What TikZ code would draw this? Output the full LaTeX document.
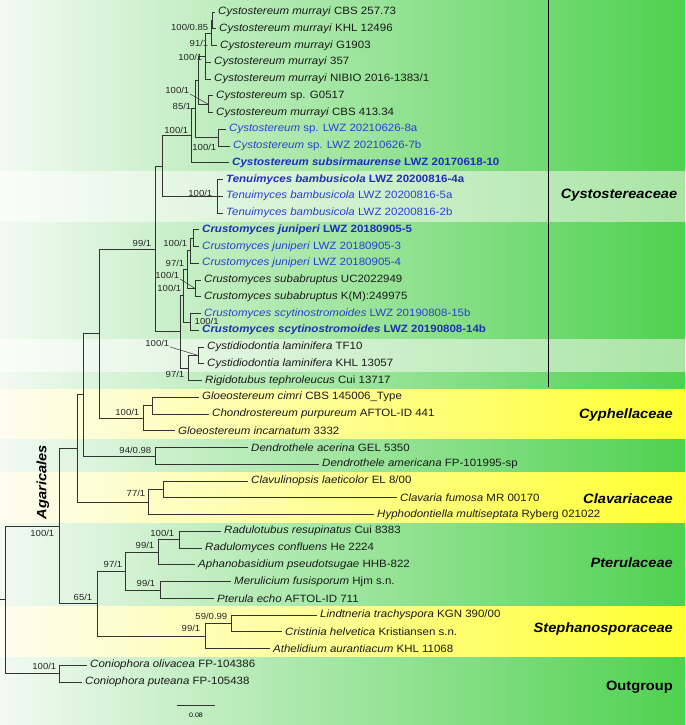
\documentclass[tikz,border=0pt]{standalone}
\usepackage{fontspec}
\setmainfont{Liberation Sans}[FakeStretch=1.085]
\usepackage{xcolor}
\usetikzlibrary{calc}
\definecolor{gLeft}{HTML}{F2FAF2}
\definecolor{gRight}{HTML}{4FD14F}
\definecolor{lLeft}{HTML}{FAFDFA}
\definecolor{lRight}{HTML}{A9E5A5}
\definecolor{yLeft}{HTML}{FEFDF0}
\definecolor{yRight}{HTML}{FFFF30}
\definecolor{tipBlack}{HTML}{1A1A1A}
\definecolor{tipBlue}{HTML}{2B3FD6}
\definecolor{tipBold}{HTML}{1F2FB8}
\definecolor{branchCol}{HTML}{333333}

\begin{document}
\begin{tikzpicture}[
    x=1pt, y=-1pt,
    bandgreen/.style={left color=gLeft, right color=gRight},
    bandlight/.style={left color=lLeft, right color=lRight},
    bandyellow/.style={left color=yLeft, right color=yRight},
    branch/.style={draw=branchCol, line width=0.7pt},
    tip/.style={anchor=west, inner xsep=3pt, inner ysep=1pt,
        font=\fontsize{10.6}{12}\selectfont},
    support/.style={anchor=east, inner sep=0.5pt,
        font=\fontsize{8.8}{10}\selectfont, text=black!85},
    clade/.style={anchor=east, inner sep=0pt,
        font=\fontsize{13.5}{16}\selectfont\bfseries\itshape}
]
    \useasboundingbox (0,0) rectangle (685,725);

    % --- BACKGROUND BANDS ---
    \foreach \ya/\yb/\kind in {
        0/171/bandgreen, 171/222/bandlight, 222/339/bandgreen,
        339/372/bandlight, 372/389.5/bandgreen, 389.5/439/bandyellow,
        439/472.5/bandgreen, 472.5/523/bandyellow, 523/606/bandgreen,
        606/657/bandyellow, 657/725/bandgreen} {
        \shade[\kind] (0,\ya) rectangle (685,\yb);
    }

    % --- TIPS ---
    \foreach \i/\xt/\col/\fmt/\gen/\rest in {
        1/218/tipBlack/\relax/Cystostereum murrayi/CBS 257.73,
        2/219/tipBlack/\relax/Cystostereum murrayi/KHL 12496,
        3/220/tipBlack/\relax/Cystostereum murrayi/G1903,
        4/214/tipBlack/\relax/Cystostereum murrayi/357,
        5/214/tipBlack/\relax/Cystostereum murrayi/{NIBIO 2016-1383/1},
        6/216/tipBlack/\relax/Cystostereum/sp. G0517,
        7/216/tipBlack/\relax/Cystostereum murrayi/CBS 413.34,
        8/229/tipBlue/\relax/Cystostereum/sp. LWZ 20210626-8a,
        9/233/tipBlue/\relax/Cystostereum/sp. LWZ 20210626-7b,
        10/232/tipBold/\bfseries/Cystostereum subsirmaurense/LWZ 20170618-10,
        11/226/tipBold/\bfseries/Tenuimyces bambusicola/LWZ 20200816-4a,
        12/226/tipBlue/\relax/Tenuimyces bambusicola/LWZ 20200816-5a,
        13/226/tipBlue/\relax/Tenuimyces bambusicola/LWZ 20200816-2b,
        14/202/tipBold/\bfseries/Crustomyces juniperi/LWZ 20180905-5,
        15/202/tipBlue/\relax/Crustomyces juniperi/LWZ 20180905-3,
        16/202/tipBlue/\relax/Crustomyces juniperi/LWZ 20180905-4,
        17/204/tipBlack/\relax/Crustomyces subabruptus/UC2022949,
        18/204/tipBlack/\relax/Crustomyces subabruptus/K(M):249975,
        19/204/tipBlue/\relax/Crustomyces scytinostromoides/LWZ 20190808-15b,
        20/202/tipBold/\bfseries/Crustomyces scytinostromoides/LWZ 20190808-14b,
        21/207/tipBlack/\relax/Cystidiodontia laminifera/TF10,
        22/207/tipBlack/\relax/Cystidiodontia laminifera/KHL 13057,
        23/205/tipBlack/\relax/Rigidotubus tephroleucus/Cui 13717,
        24/202/tipBlack/\relax/Gloeostereum cimri/CBS 145006\_Type,
        25/212/tipBlack/\relax/Chondrostereum purpureum/AFTOL-ID 441,
        26/178/tipBlack/\relax/Gloeostereum incarnatum/3332,
        27/251/tipBlack/\relax/Dendrothele acerina/GEL 5350,
        28/322/tipBlack/\relax/Dendrothele americana/FP-101995-sp,
        29/251/tipBlack/\relax/Clavulinopsis laeticolor/{EL 8/00},
        30/400/tipBlack/\relax/Clavaria fumosa/MR 00170,
        31/377/tipBlack/\relax/Hyphodontiella multiseptata/Ryberg 021022,
        32/224/tipBlack/\relax/Radulotubus resupinatus/Cui 8383,
        33/205/tipBlack/\relax/Radulomyces confluens/He 2224,
        34/198/tipBlack/\relax/Aphanobasidium pseudotsugae/HHB-822,
        35/234/tipBlack/\relax/Merulicium fusisporum/Hjm s.n.,
        36/217/tipBlack/\relax/Pterula echo/AFTOL-ID 711,
        37/320/tipBlack/\relax/Lindtneria trachyspora/{KGN 390/00},
        38/285/tipBlack/\relax/Cristinia helvetica/Kristiansen s.n.,
        39/273/tipBlack/\relax/Athelidium aurantiacum/KHL 11068,
        40/90/tipBlack/\relax/Coniophora olivacea/FP-104386,
        41/85/tipBlack/\relax/Coniophora puteana/FP-105438} {
        \node[tip, text=\col] (t\i) at (\xt-3, {12+(\i-1)*16.75})
            {\fmt\textit{\gen} \rest};
    }

    % --- INNER NODES ---
    % Cystostereum
    \coordinate (n1) at (212, 20.4);
    \coordinate (n2) at (211, 33);
    \coordinate (n3) at (205, 56);
    \coordinate (n4) at (208, 104.1);
    \coordinate (n5) at (198, 80);
    \coordinate (n6) at (218, 137.6);
    \coordinate (n7) at (195, 108.8);
    \coordinate (n8) at (191, 135.8);
    \coordinate (nT) at (217, 196.3);
    \coordinate (nA) at (162, 166);
    % Crustomyces / Cystidiodontia
    \coordinate (c1) at (193, 238.1);
    \coordinate (c2) at (190, 250.7);
    \coordinate (c3) at (195, 288.4);
    \coordinate (c4) at (187, 269.5);
    \coordinate (c5) at (190, 321.9);
    \coordinate (c6) at (183, 295.7);
    \coordinate (c7) at (198, 355.4);
    \coordinate (c8) at (188, 368);
    \coordinate (c9) at (180, 331.8);
    \coordinate (nB) at (155, 248.9);
    % Cyphellaceae, Dendrothele, Clavariaceae
    \coordinate (k1) at (152, 405.6);
    \coordinate (k2) at (143, 418.2);
    \coordinate (nC) at (99, 333.5);
    \coordinate (d1) at (155, 455.9);
    \coordinate (nL) at (83, 394.7);
    \coordinate (v1) at (163, 489.4);
    \coordinate (v2) at (148, 502);
    \coordinate (nM) at (77, 448.3);
    % Pterulaceae, Stephanosporaceae
    \coordinate (p1) at (179, 539.6);
    \coordinate (p2) at (158, 552.2);
    \coordinate (p3) at (160, 589.9);
    \coordinate (p4) at (125, 571);
    \coordinate (s1) at (231, 623.4);
    \coordinate (s2) at (205, 636);
    \coordinate (s3) at (97, 603.5);
    \coordinate (nN) at (59, 525.9);
    % Outgroup and root
    \coordinate (o1) at (59, 673.6);
    \coordinate (root) at (5, 599.8);
    \coordinate (rootStub) at (0, 599.8);

    % --- BRANCHES ---
    \foreach \p/\c in {
        n1/t1.west, n1/t2.west, n2/n1, n2/t3.west,
        n3/n2, n3/t4.west, n3/t5.west, n4/t6.west, n4/t7.west,
        n5/n3, n5/n4, n6/t8.west, n6/t9.west, n7/n5, n7/n6,
        n8/n7, n8/t10.west, nT/t11.west, nT/t12.west, nT/t13.west,
        nA/n8, nA/nT,
        c1/t14.west, c1/t15.west, c2/c1, c2/t16.west,
        c3/t17.west, c3/t18.west, c4/c2, c4/c3,
        c5/t19.west, c5/t20.west, c6/c4, c6/c5,
        c7/t21.west, c7/t22.west, c8/c7, c8/t23.west,
        c9/c6, c9/c8, nB/nA, nB/c9,
        k1/t24.west, k1/t25.west, k2/k1, k2/t26.west, nC/nB, nC/k2,
        d1/t27.west, d1/t28.west, nL/nC, nL/d1,
        v1/t29.west, v1/t30.west, v2/v1, v2/t31.west, nM/nL, nM/v2,
        p1/t32.west, p1/t33.west, p2/p1, p2/t34.west,
        p3/t35.west, p3/t36.west, p4/p2, p4/p3,
        s1/t37.west, s1/t38.west, s2/s1, s2/t39.west, s3/p4, s3/s2,
        nN/nM, nN/s3, o1/t40.west, o1/t41.west, root/nN, root/o1} {
        \draw[branch] (\p) |- (\c);
    }
    \draw[branch] (rootStub) -- (root);

    % --- SUPPORT VALUES ---
    \node[support] (bs1) at (209, 27) {100/0.85};
    \node[support] (bs2) at (209, 43) {91/1};
    \node[support] (bs3) at (203, 57) {100/1};
    \node[support] (bs4) at (190, 90) {100/1};
    \node[support] (bs5) at (192, 106) {85/1};
    \node[support] (bs6) at (189, 130) {100/1};
    \node[support] (bs7) at (217, 147) {100/1};
    \node[support] (bs8) at (213, 193) {100/1};
    \node[support] (bs9) at (152, 243) {99/1};
    \node[support] (bs10) at (188, 243) {100/1};
    \node[support] (bs11) at (185, 263) {97/1};
    \node[support] (bs12) at (180, 275) {100/1};
    \node[support] (bs13) at (182, 288) {100/1};
    \node[support, anchor=west] (bs14) at (194, 321) {100/1};
    \node[support] (bs15) at (170, 343) {100/1};
    \node[support] (bs16) at (185, 374) {97/1};
    \node[support] (bs17) at (140, 412) {100/1};
    \node[support] (bs18) at (152, 450) {94/0.98};
    \node[support] (bs19) at (146, 493) {77/1};
    \node[support] (bs20) at (175, 533) {100/1};
    \node[support] (bs21) at (155, 545) {99/1};
    \node[support] (bs22) at (123, 564) {97/1};
    \node[support] (bs23) at (156, 583) {99/1};
    \node[support] (bs24) at (93, 597) {65/1};
    \node[support] (bs25) at (228, 616) {59/0.99};
    \node[support] (bs26) at (201, 628) {99/1};
    \node[support] (bs27) at (55, 533) {100/1};
    \node[support] (bs28) at (57, 666) {100/1};

    % leader lines from labels to their nodes
    \draw[branch, line width=0.5pt] (bs4.south east) -- (n4);
    \draw[branch, line width=0.5pt] (bs12.south east) -- (c3);
    \draw[branch, line width=0.5pt] (bs15.south east) -- (c7);

    % --- CLADE LABELS ---
    \coordinate (bracketTop) at (548, 0);
    \coordinate (bracketBot) at (548, 387);
    \draw[line width=0.8pt] (bracketTop) -- (bracketBot);
    \node[clade, anchor=center] (cyst) at (619, 195) {Cystostereaceae};
    \node[clade] (cyph) at (673, 415) {Cyphellaceae};
    \node[clade] (clav) at (673, 499) {Clavariaceae};
    \node[clade] (pter) at (673, 563) {Pterulaceae};
    \node[clade] (steph) at (673, 629) {Stephanosporaceae};
    \node[clade, font=\fontsize{13.5}{16}\selectfont\bfseries] (outg) at (673, 687) {Outgroup};
    \node[clade, anchor=center, rotate=90] (agar) at (43, 482) {Agaricales};

    % --- SCALE BAR ---
    \coordinate (scaleA) at (177, 705);
    \coordinate (scaleB) at (215, 705);
    \draw[branch] (scaleA) -- (scaleB);
    \node[font=\fontsize{6.5}{8}\selectfont, inner sep=0pt] (scaleLab)
        at (196, 715) {0.08};

\end{tikzpicture}
\end{document}
